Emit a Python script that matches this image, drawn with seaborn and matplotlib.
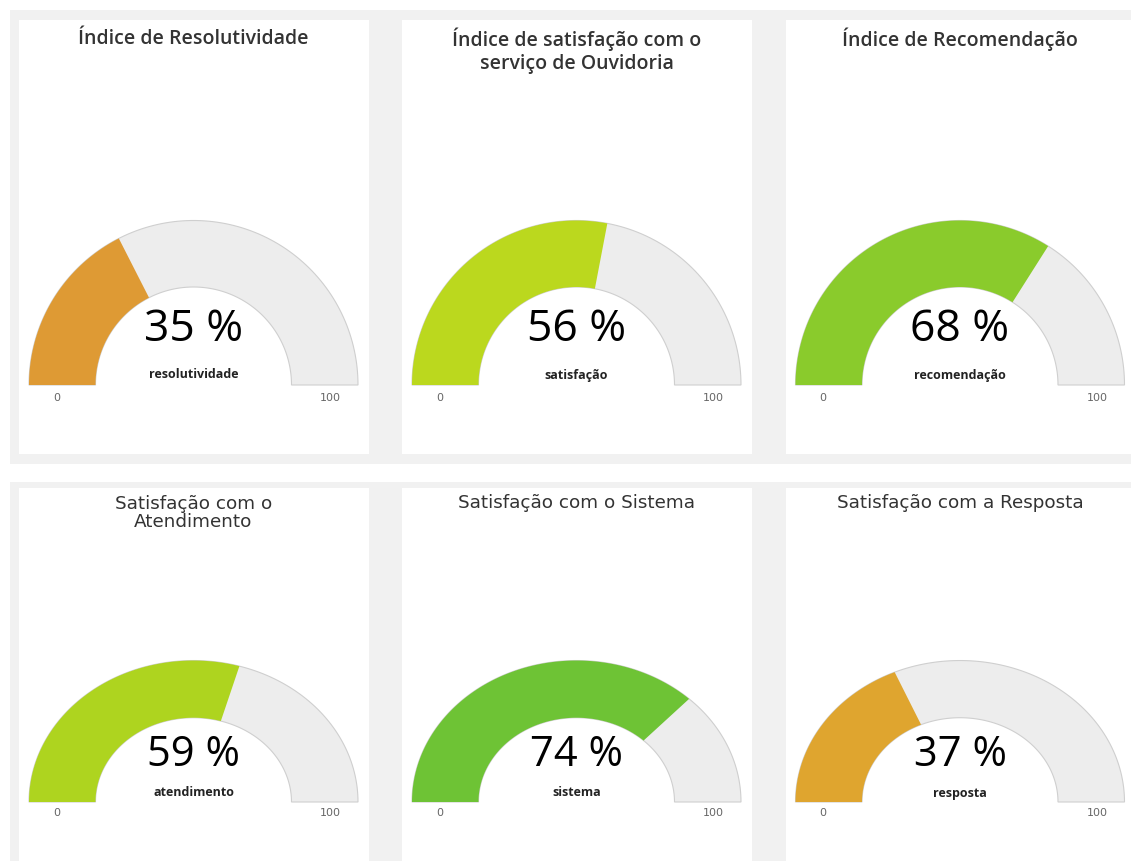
import numpy as np
import matplotlib.pyplot as plt
import seaborn as sns
from matplotlib.patches import Rectangle

sns.set_theme(style="white")
plt.rcParams["font.family"] = ["Open Sans", "DejaVu Sans"]

# gauge data
titles = [
    "Índice de Resolutividade",
    "Índice de satisfação com o\nserviço de Ouvidoria",
    "Índice de Recomendação",
    "Satisfação com o\nAtendimento",
    "Satisfação com o Sistema",
    "Satisfação com a Resposta",
]
values = [35, 56, 68, 59, 74, 37]
labels = ["resolutividade", "satisfação", "recomendação", "atendimento", "sistema", "resposta"]
colors = ["#DE9A34", "#BBD81E", "#8ACB2C", "#AED41F", "#6EC335", "#DFA52F"]
scale_min = 0
scale_max = 100

W, H = 1131, 861
fig = plt.figure(figsize=(W / 100, H / 100), dpi=100)
ax = fig.add_axes([0, 0, 1, 1])
ax.set_xlim(0, W)
ax.set_ylim(H, 0)
ax.axis("off")

# gray row bands and white panels
for y0, y1 in [(10, 464), (482, 861)]:
    ax.add_patch(Rectangle((10, y0), W - 10, y1 - y0, color="#F1F1F1", lw=0))
panel_x = [19, 402, 786]
for row, (py, ph) in enumerate([(20, 434), (488, 380)]):
    for px in panel_x:
        ax.add_patch(Rectangle((px, py), 350, ph, color="white", lw=0))

# row layout: gauge base y, vertical squash, text positions
rows = [
    dict(cy=385, sy=1.0, title_y=39, title_gap=24, tfont="Open Sans", tsize=14,
         tweight="semibold", num_y=330, num_size=32, lab_y=375, tick_y=398),
    dict(cy=802, sy=0.86, title_y=503, title_gap=20, tfont="DejaVu Sans", tsize=13.2,
         tweight="normal", num_y=755, num_size=30, lab_y=793, tick_y=813),
]
gauge_cx = [193.5, 576.5, 960]
R_out, R_in = 164.5, 98


def arc_band(cx, cy, sy, v0, v1):
    t = np.linspace(np.pi * (1 - v0 / scale_max), np.pi * (1 - v1 / scale_max), 120)
    xo = cx + R_out * np.cos(t)
    yo = cy - R_out * sy * np.sin(t)
    xi = cx + R_in * np.cos(t[::-1])
    yi = cy - R_in * sy * np.sin(t[::-1])
    return np.concatenate([xo, xi]), np.concatenate([yo, yi])


for i, (title, val, lab, col) in enumerate(zip(titles, values, labels, colors)):
    r = rows[i // 3]
    cx = gauge_cx[i % 3]
    cy, sy = r["cy"], r["sy"]

    # track
    xs, ys = arc_band(cx, cy, sy, scale_min, scale_max)
    ax.fill(xs, ys, facecolor="#EDEDED", edgecolor="#CFCFCF", lw=0.8, zorder=2)
    # value
    xs, ys = arc_band(cx, cy, sy, scale_min, val)
    ax.fill(xs, ys, facecolor=col, edgecolor="none", zorder=3)

    nlines = title.count("\n") + 1
    ty = r["title_y"] + (nlines - 1) * r["title_gap"] / 2
    ax.text(cx, ty, title, ha="center", va="center", fontsize=r["tsize"],
            family=r["tfont"], weight=r["tweight"], color="#333333",
            linespacing=1.2 if i < 3 else 1.0)

    ax.text(cx, r["num_y"], f"{val} %", ha="center", va="center",
            fontsize=r["num_size"], color="black", zorder=4)
    ax.text(cx, r["lab_y"], lab, ha="center", va="center", fontsize=9,
            weight="bold", color="#222222", zorder=4)
    ax.text(cx - 137, r["tick_y"], str(scale_min), ha="center", va="center",
            fontsize=8, family="DejaVu Sans", color="#666666")
    ax.text(cx + 137, r["tick_y"], str(scale_max), ha="center", va="center",
            fontsize=8, family="DejaVu Sans", color="#666666")

fig.savefig("out.png", dpi=100)
